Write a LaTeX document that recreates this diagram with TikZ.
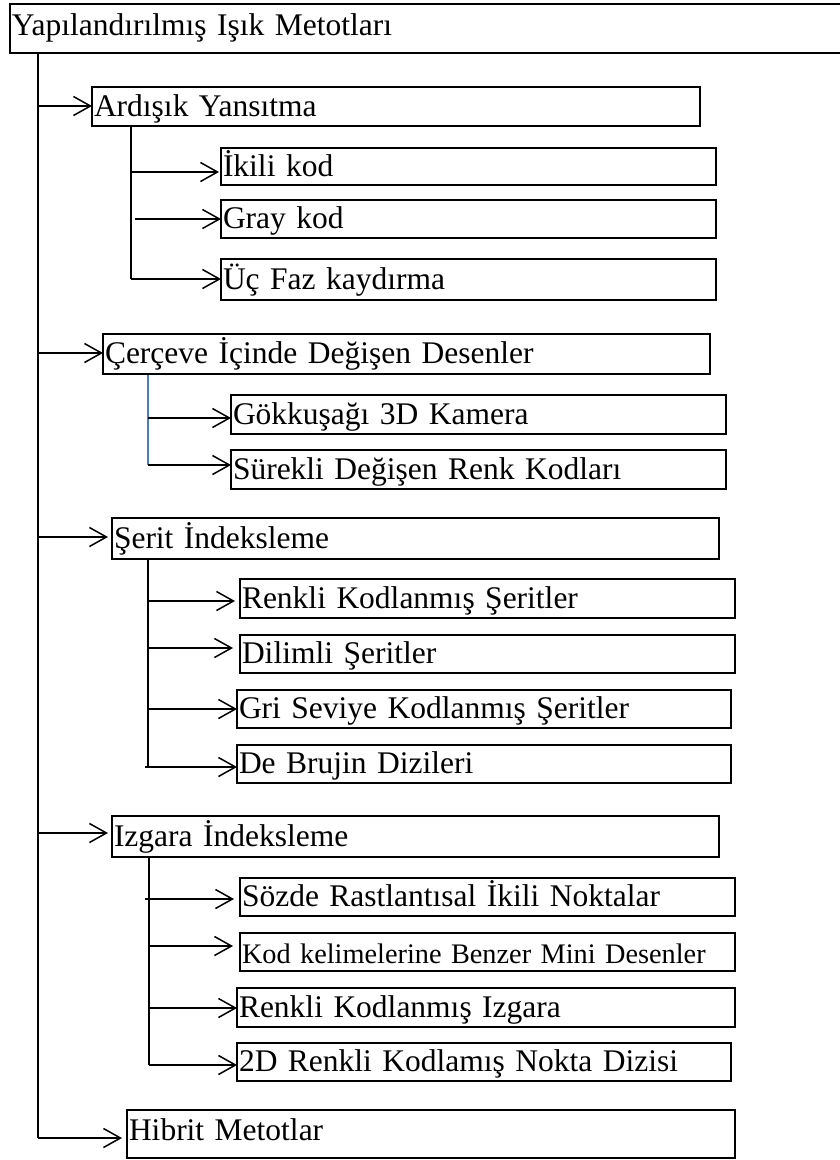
\documentclass[tikz,border=0pt]{standalone}
\usepackage{fontspec}
\setmainfont{Liberation Serif}
\usetikzlibrary{arrows.meta}
\definecolor{subblue}{RGB}{74,126,187}
\tikzset{
  tb/.style={draw, line width=1.7pt, anchor=north west, outer sep=0pt,
    inner xsep=2pt, inner ysep=0pt, text height=24pt, text depth=5pt,
    align=left, font=\fontsize{31.5}{36}\selectfont},
  ln/.style={line width=1.5pt},
  bl/.style={line width=1.1pt, draw=subblue},
  arr/.style={line width=1.5pt,
    -{Straight Barb[length=17pt,width=19pt,line width=1.5pt]}},
}
\begin{document}
\begin{tikzpicture}[x=1pt,y=-1pt]
\clip (0,0) rectangle (840,1160);
\fill[white] (0,0) rectangle (840,1160);

% top-level box (runs off the right edge)
\node[tb, text width=836pt, minimum height=49pt, text depth=11pt] (title) at (10,4) {Yapılandırılmış Işık Metotları};

% first-level boxes
\node[tb, text width=604pt, minimum height=39pt] (ardisik) at (92,87) {Ardışık Yansıtma};
\node[tb, text width=603pt, minimum height=40pt] (cerceve) at (103,334) {Çerçeve İçinde Değişen Desenler};
\node[tb, text width=603pt, minimum height=41pt] (serit) at (112,518) {Şerit İndeksleme};
\node[tb, text width=603pt, minimum height=41pt] (izgara) at (112,816) {Izgara İndeksleme};
\node[tb, text width=604pt, minimum height=48pt, text depth=12pt] (hibrit) at (127,1110) {Hibrit Metotlar};

% second-level boxes
\node[tb, text width=491pt, minimum height=37pt] (ikili) at (221,148) {İkili kod};
\node[tb, text width=491pt, minimum height=38pt] (gray) at (221,200) {Gray kod};
\node[tb, text width=491pt, minimum height=41pt] (ucfaz) at (221,259) {Üç Faz kaydırma};

\node[tb, text width=491pt, minimum height=39pt] (gokkusagi) at (231,395) {Gökkuşağı 3D Kamera};
\node[tb, text width=491pt, minimum height=39pt] (surekli) at (231,450) {Sürekli Değişen Renk Kodları};

\node[tb, text width=491pt, minimum height=39pt] (renkliserit) at (240,579) {Renkli Kodlanmış Şeritler};
\node[tb, text width=491pt, minimum height=38pt] (dilimli) at (240,635) {Dilimli Şeritler};
\node[tb, text width=490pt, minimum height=38pt] (gri) at (237,690) {Gri Seviye Kodlanmış Şeritler};
\node[tb, text width=490pt, minimum height=38pt] (debrujin) at (237,745) {De Brujin Dizileri};

\node[tb, text width=491pt, minimum height=38pt] (sozde) at (240,878) {Sözde Rastlantısal İkili Noktalar};
\node[tb, text width=491pt, minimum height=38pt, text height=27pt, font=\fontsize{28.3}{34}\selectfont] (kod) at (240,933) {Kod kelimelerine Benzer Mini Desenler};
\node[tb, text width=494pt, minimum height=39pt] (renkliizgara) at (237,988) {Renkli Kodlanmış Izgara};
\node[tb, text width=490pt, minimum height=38pt] (ikid) at (237,1043) {2D Renkli Kodlamış Nokta Dizisi};

% main trunk and its branches
\coordinate (m0) at (38,53);
\coordinate (m1) at (38,106);
\coordinate (m2) at (38,353);
\coordinate (m3) at (38,537);
\coordinate (m4) at (38,833);
\coordinate (m5) at (38,1138);
\draw[ln] (m0) -- (m5);
\draw[arr] (m1) -- (ardisik.west |- m1);
\draw[arr] (m2) -- (cerceve.west |- m2);
\draw[arr, shorten >=4pt] (m3) -- (serit.west |- m3);
\draw[arr, shorten >=4pt] (m4) -- (izgara.west |- m4);
\draw[arr, shorten >=5pt] (m5) -- (hibrit.west |- m5);

% Ardisik Yansitma children
\coordinate (a0) at (131,126);
\coordinate (a1) at (131,172);
\coordinate (a2) at (135,219);
\coordinate (a3) at (131,279);
\draw[ln] (a0) -- (a3);
\draw[arr, shorten >=2pt] (a1) -- (ikili.west |- a1);
\draw[arr] (a2) -- (gray.west |- a2);
\draw[arr] (a3) -- (ucfaz.west |- a3);

% Cerceve children
\coordinate (c0) at (148,375);
\coordinate (c1) at (148,418);
\coordinate (c2) at (148,465);
\draw[bl] (c0) -- (c2);
\draw[arr] (c1) -- (gokkusagi.west |- c1);
\draw[arr] (c2) -- (surekli.west |- c2);

% Serit children
\coordinate (s0) at (148,559);
\coordinate (s1) at (148,601);
\coordinate (s2) at (148,648);
\coordinate (s3) at (148,709);
\coordinate (s4) at (148,767);
\coordinate (s4b) at (145,767);
\draw[ln] (s0) -- (s4);
\draw[arr, shorten >=5pt] (s1) -- (renkliserit.west |- s1);
\draw[arr, shorten >=7pt] (s2) -- (dilimli.west |- s2);
\draw[arr] (s3) -- (gri.west |- s3);
\draw[arr] (s4b) -- (debrujin.west |- s4b);

% Izgara children
\coordinate (g0) at (149,857);
\coordinate (g1) at (145,899);
\coordinate (g2) at (149,946);
\coordinate (g3) at (149,1008);
\coordinate (g4) at (149,1065);
\draw[ln] (g0) -- (g4);
\draw[arr, shorten >=6pt] (g1) -- (sozde.west |- g1);
\draw[arr, shorten >=7pt] (g2) -- (kod.west |- g2);
\draw[arr] (g3) -- (renkliizgara.west |- g3);
\draw[arr] (g4) -- (ikid.west |- g4);
\end{tikzpicture}
\end{document}
